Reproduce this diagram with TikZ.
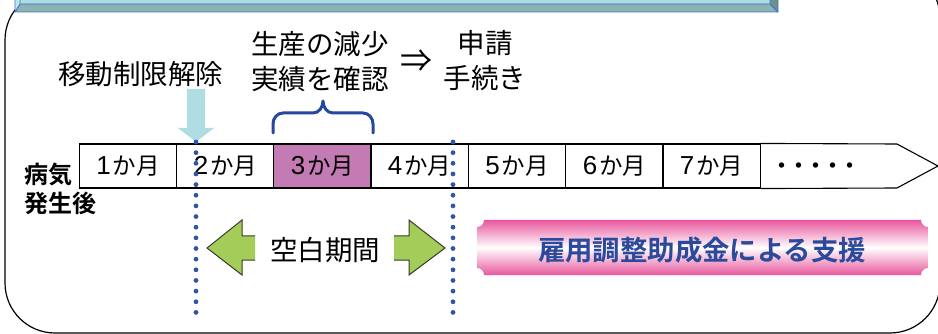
\documentclass[tikz,border=0pt]{standalone}
\usepackage{fontspec}
\setmainfont{Noto Sans CJK JP}[BoldFont={Noto Sans CJK JP Bold}]
\newfontfamily\digitfont{Liberation Sans}
\newcommand{\mdig}[1]{{\digitfont\fontsize{26}{26}\selectfont #1}\kern2pt}
\definecolor{barface}{HTML}{AADDE3}
\definecolor{barbot}{HTML}{8AB3B1}
\definecolor{barright}{HTML}{6F8F8C}
\definecolor{barleft}{HTML}{BDE6EC}
\definecolor{barline}{HTML}{4472C4}
\definecolor{magcell}{HTML}{C47AB2}
\definecolor{dotblue}{HTML}{2D55AA}
\definecolor{bracec}{HTML}{2547A0}
\definecolor{downc}{HTML}{B0DDE2}
\definecolor{greenc}{HTML}{A3CC58}
\definecolor{greenline}{HTML}{363A2E}
\definecolor{pinkc}{HTML}{E8579D}
\definecolor{bannertext}{HTML}{2B4A9C}
\begin{document}
\begin{tikzpicture}[x=1pt,y=1pt,
  frameline/.style={draw=black,line width=1.2pt},
  barpart/.style={draw=barline,line width=0.8pt,line join=round},
  bigtxt/.style={inner sep=0pt,font=\fontsize{27.5}{35}\selectfont,align=center},
  cell/.style={draw=black,line width=1.1pt,minimum width=97.3pt,minimum height=44pt,inner sep=0pt,
    font=\fontsize{23.5}{26}\selectfont},
  cellline/.style={draw=black,line width=1.1pt,line join=miter},
  dotline/.style={draw=dotblue,line width=4.8pt,line cap=round,dash pattern=on 0pt off 10.65pt},
  greenarrow/.style={draw=greenline,line width=1pt,line join=miter},
]
\useasboundingbox (0,0) rectangle (938,-334);
\clip (0,0) rectangle (938,-334);

% outer rounded frame
\draw[frameline] (5,-283) -- (5,-40) arc[start angle=180,end angle=90,radius=50]
  -- (890,32) arc[start angle=90,end angle=0,radius=50]
  -- (940,-283) arc[start angle=0,end angle=-90,radius=50]
  -- (55,-333) arc[start angle=270,end angle=180,radius=50] -- cycle;

% bevelled bar at the top
\fill[barface] (20,10) rectangle (770,-4);
\draw[barpart,fill=barbot] (15,-12) -- (778,-12) -- (770,-4) -- (20,-4) -- cycle;
\draw[barpart,fill=barleft] (15,10) -- (15,-12) -- (20,-4) -- (20,10) -- cycle;
\draw[barpart,fill=barright] (778,10) -- (778,-12) -- (770,-4) -- (770,10) -- cycle;

% upper texts
\node[bigtxt] (idou) at (140.5,-74) {移動制限解除};
\node[bigtxt] (seisan) at (320,-61.5) {生産の減少\\実績を確認};
\node[bigtxt,font=\fontsize{32}{32}\selectfont] (ya) at (416.5,-61) {⇒};
\node[bigtxt] (shinsei) at (485,-61) {申請\\手続き};

% left label
\node[inner sep=0pt,anchor=west,align=left,font=\bfseries\fontsize{24}{29}\selectfont] (byoki) at (24,-188.5) {病気\\発生後};

% timeline cells
\node[cell] (m1) at (128,-166) {\mdig{1}か月};
\node[cell] (m2) at (225.5,-166) {\mdig{2}か月};
\node[cell,fill=magcell] (m3) at (322.5,-166) {\mdig{3}か月};
\node[cell] (m4) at (419.5,-166) {\mdig{4}か月};
\node[cell] (m5) at (517,-166) {\mdig{5}か月};
\node[cell] (m6) at (614.5,-166) {\mdig{6}か月};
\node[cell] (m7) at (711.5,-166) {\mdig{7}か月};
\draw[cellline] (m7.north east) -- (897,-144) -- (938,-166) -- (897,-188) -- (m7.south east);
\node[inner sep=0pt,font=\bfseries\fontsize{21}{22}\selectfont] (more) at (815.5,-168) {・\kern-4pt・\kern-4pt・\kern-4pt・\kern-4pt・};

% down arrow
\fill[downc] (187,-89) -- (205,-89) -- (205,-128) -- (214,-128) -- (196,-142) -- (178,-128) -- (187,-128) -- cycle;

% brace
\draw[bracec,line width=3pt,line cap=round,line join=round]
  (273,-133) -- (273,-124) to[out=90,in=180] (283,-113) -- (313,-113)
  to[out=0,in=-90] (323,-101) to[out=-90,in=180] (333,-113) -- (363,-113)
  to[out=0,in=90] (373,-124) -- (373,-133);

% dotted lines
\coordinate (d1t) at (196,-142);
\coordinate (d1b) at (196,-323);
\coordinate (d2t) at (453,-142);
\coordinate (d2b) at (453,-323);
\draw[dotline] (d1t) -- (d1b);
\draw[dotline] (d2t) -- (d2b);

% green arrows
\fill[greenc] (255,-236) -- (242,-236) -- (242,-220) -- (207,-248) -- (242,-275) -- (242,-260) -- (255,-260) -- cycle;
\draw[greenarrow] (255,-236) -- (242,-236) -- (242,-220) -- (207,-248) -- (242,-275) -- (242,-260) -- (255,-260);
\fill[greenc] (394,-236) -- (409,-236) -- (409,-220) -- (445,-248) -- (409,-275) -- (409,-260) -- (394,-260) -- cycle;
\draw[greenarrow] (394,-236) -- (409,-236) -- (409,-220) -- (445,-248) -- (409,-275) -- (409,-260) -- (394,-260);
\node[bigtxt] (kuhaku) at (325,-250) {空白期間};

% banner
\shade[top color=pinkc,bottom color=pinkc,middle color=white]
  (484,-220) -- (921,-220) arc[start angle=180,end angle=270,radius=7]
  -- (928,-268) arc[start angle=90,end angle=180,radius=7]
  -- (484,-275) arc[start angle=0,end angle=90,radius=7]
  -- (477,-227) arc[start angle=270,end angle=360,radius=7] -- cycle;
\node[inner sep=0pt,text=bannertext,font=\bfseries\fontsize{27.4}{30}\selectfont] (koyo) at (702,-250) {雇用調整助成金による支援};
\end{tikzpicture}
\end{document}
